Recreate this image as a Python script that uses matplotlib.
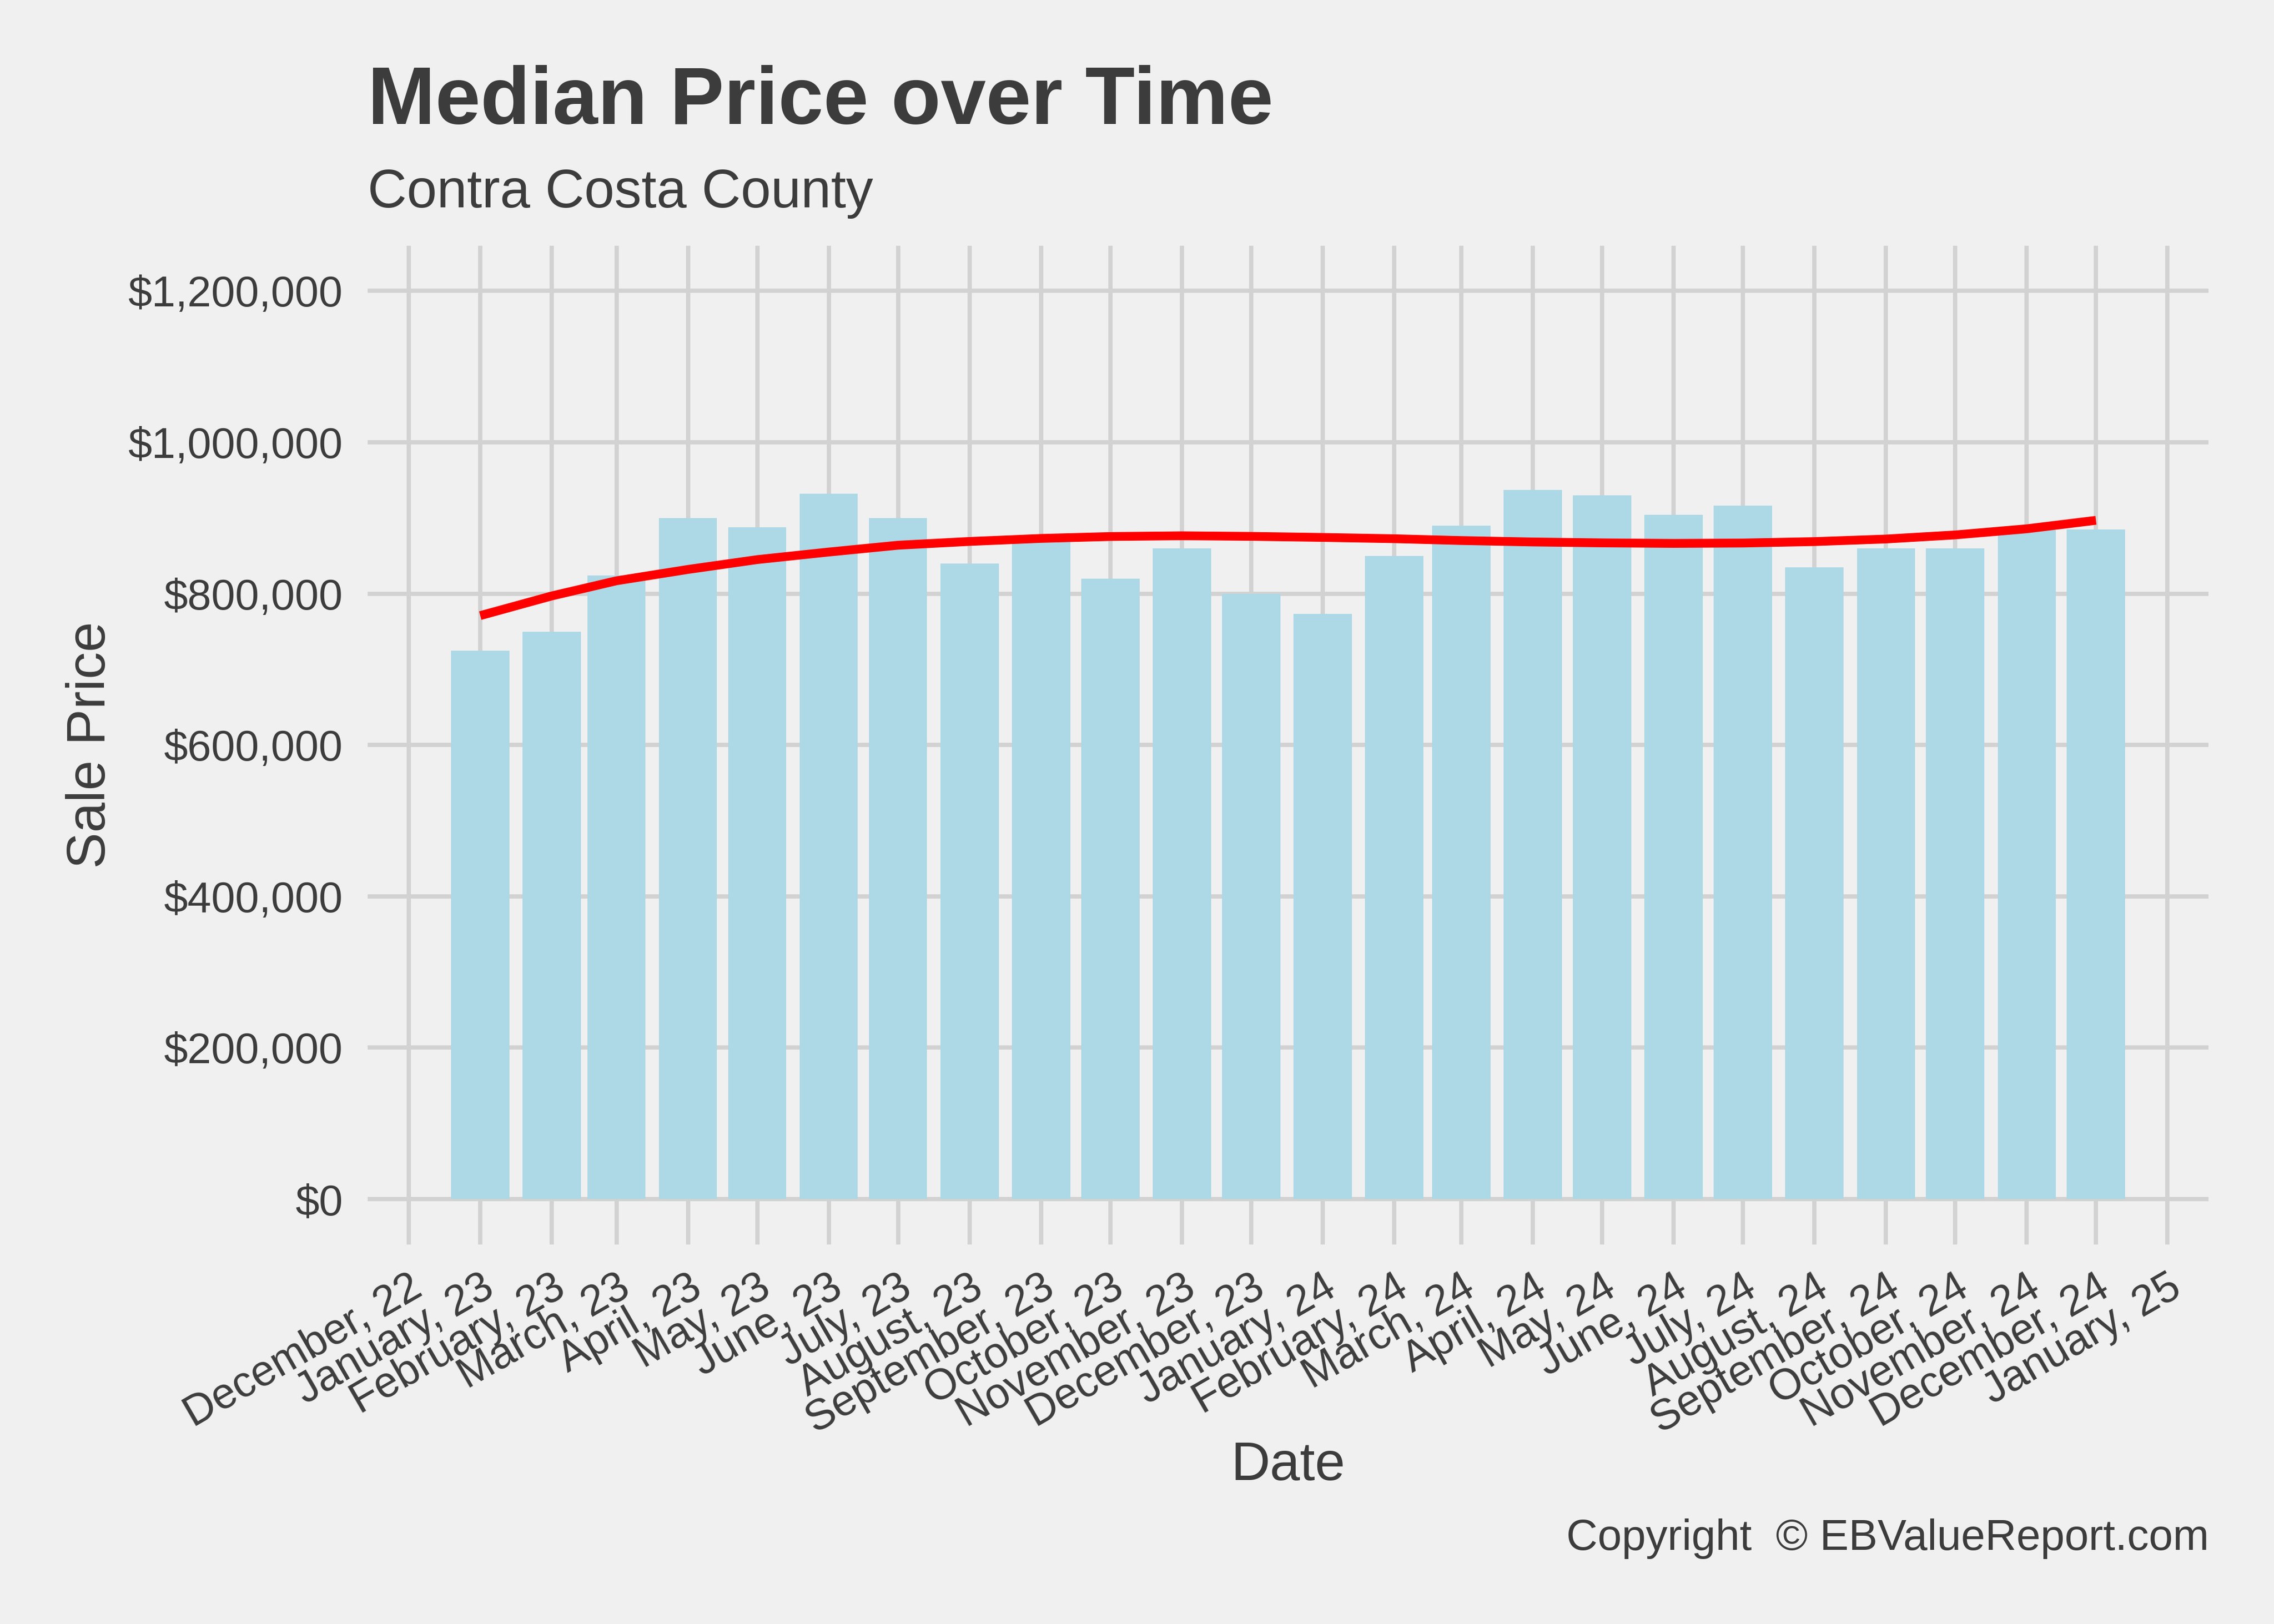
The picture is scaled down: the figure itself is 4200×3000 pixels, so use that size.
import matplotlib
matplotlib.use("Agg")
import matplotlib.pyplot as plt
import matplotlib.dates as mdates
import matplotlib.ticker as mticker
import numpy as np
import pandas as pd

# ---- data ----
months = pd.date_range("2023-01-01", "2024-12-01", freq="MS")
median_price = [725000, 750000, 824000, 900000, 888000, 932000, 900000, 840000,
                875000, 820000, 860000, 800000, 773000, 850000, 890000, 937000,
                930000, 904000, 916000, 835000, 860000, 860000, 884000, 885000]
smooth_price = [771000, 797000, 817000, 832000, 845000, 855000, 864000, 869000,
                873000, 875500, 876500, 875700, 874300, 872600, 870200, 868300,
                867100, 866400, 866900, 868800, 872200, 877600, 885700, 896900]
y_ticks = [0, 200000, 400000, 600000, 800000, 1000000, 1200000]

title = "Median Price over Time"
subtitle = "Contra Costa County"
x_label = "Date"
y_label = "Sale Price"
caption = "Copyright  \u00a9 EBValueReport.com"

# ---- style ----
BG = "#F0F0F0"
GRID = "#D2D2D2"
TXT = "#3C3C3C"
plt.rcParams["font.family"] = ["Liberation Sans", "DejaVu Sans"]

fig = plt.figure(figsize=(14, 10), dpi=300, facecolor=BG)
ax = fig.add_axes([0.1616, 0.2337, 0.9713 - 0.1616, 0.8488 - 0.2337])
ax.set_facecolor(BG)

bar_w = 0.9 * 28  # days
x = mdates.date2num(months.to_pydatetime())
ax.bar(x, median_price, width=bar_w, color="#ADD8E6", zorder=2)
ax.plot(x, smooth_price, color="red", lw=3.9, solid_capstyle="butt", zorder=3)

xmin, xmax = x[0] - bar_w / 2, x[-1] + bar_w / 2
pad = 0.05 * (xmax - xmin)
ax.set_xlim(xmin - pad, xmax + pad)
ax.set_ylim(-60000, 1260000)

ax.xaxis.set_major_locator(mdates.MonthLocator())
ax.xaxis.set_major_formatter(mdates.DateFormatter("%B, %y"))
ax.set_yticks(y_ticks)
ax.yaxis.set_major_formatter(mticker.FuncFormatter(lambda v, p: "${:,.0f}".format(v)))

ax.grid(True, color=GRID, lw=1.9, zorder=0)
ax.set_axisbelow(True)
for s in ax.spines.values():
    s.set_visible(False)
ax.tick_params(axis="both", length=0, colors=TXT, labelsize=19)
ax.tick_params(axis="y", pad=11)
ax.tick_params(axis="x", pad=10)
plt.setp(ax.get_xticklabels(), rotation=30, ha="right", rotation_mode="anchor")

# ---- texts ----
fig.text(0.1616, 0.9237, title, fontsize=36, fontweight="bold", color=TXT,
         ha="left", va="baseline")
fig.text(0.1616, 0.8723, subtitle, fontsize=24, color=TXT, ha="left", va="baseline")
fig.text(0.0462, (0.2337 + 0.8488) / 2, y_label, fontsize=24, color=TXT,
         rotation=90, rotation_mode="anchor", ha="center", va="baseline")
fig.text((0.1616 + 0.9713) / 2, 0.0887, x_label, fontsize=24, color=TXT,
         ha="center", va="baseline")
fig.text(0.9713, 0.0457, caption, fontsize=19.2, color=TXT, ha="right", va="baseline")

fig.savefig("out.png", dpi=300, facecolor=BG)
